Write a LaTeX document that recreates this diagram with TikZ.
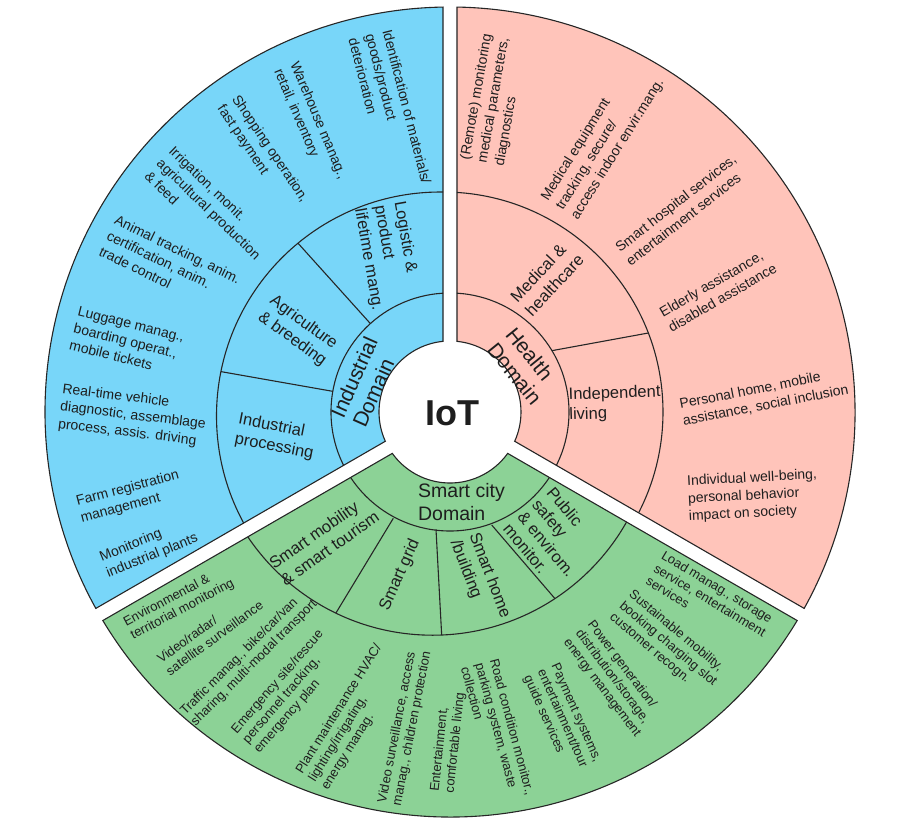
\documentclass[tikz,border=0pt]{standalone}
\usepackage{fontspec}
\setmainfont{Liberation Sans}
\definecolor{cblue}{RGB}{120,214,249}
\definecolor{cpink}{RGB}{255,196,186}
\definecolor{cgreen}{RGB}{140,210,150}
\definecolor{ink}{RGB}{30,30,30}
\newcommand\pinkpath{(-24.342:71) -- (-29.01:405) arc[start angle=-29.01, end angle=89.01, radius=405] -- (84.342:71) arc[start angle=84.342, end angle=-24.342, radius=71] -- cycle}
\newcommand\bluepath{(95.658:71) -- (90.99:405) arc[start angle=90.99, end angle=209.01, radius=405] -- (204.342:71) arc[start angle=204.342, end angle=95.658, radius=71] -- cycle}
\newcommand\greenpath{(215.658:71) -- (210.99:405) arc[start angle=210.99, end angle=329.01, radius=405] -- (324.342:71) arc[start angle=324.342, end angle=215.658, radius=71] -- cycle}
\begin{document}
\begin{tikzpicture}[x=1pt,y=1pt,
  edge/.style={draw=black!85, line width=1.1pt},
  lo/.style={font=\fontsize{14}{17.5}\selectfont, align=left, text=ink, inner sep=0pt},
  lg/.style={font=\fontsize{13}{15}\selectfont, align=left, text=ink, inner sep=0pt},
  lm/.style={font=\fontsize{16.5}{20}\selectfont, align=left, text=ink, inner sep=0pt},
  ld/.style={font=\fontsize{21}{24}\selectfont, align=left, text=ink, inner sep=0pt},
  lds/.style={font=\fontsize{19.5}{23}\selectfont, align=left, text=ink, inner sep=0pt}]
\useasboundingbox (-450,-419) rectangle (457,412);
% fills
\fill[cpink] \pinkpath;
\fill[cblue] \bluepath;
\fill[cgreen] \greenpath;
% pink rings
\begin{scope}
  \clip \pinkpath;
  \draw[edge] (0,0) circle[radius=119];
  \draw[edge] (-7,0) circle[radius=220];
  \begin{scope}
    \clip (-7,0) circle[radius=220];
    \draw[edge] (101.7,61.3) -- (230,84.8);
  \end{scope}
\end{scope}
% blue rings
\begin{scope}
  \clip \bluepath;
  \draw[edge] (0,0) circle[radius=119];
  \draw[edge] (-9.5,-4) circle[radius=224];
  \begin{scope}
    \clip (-9.5,-4) circle[radius=224];
    \draw[edge] (132:119) -- (132:270);
    \draw[edge] (170:119) -- (170:270);
  \end{scope}
\end{scope}
% green rings
\begin{scope}
  \clip \greenpath;
  \draw[edge] (0,0) circle[radius=119];
  \draw[edge] (-17.4,-0.5) circle[radius=222.7];
  \begin{scope}
    \clip (-17.4,-0.5) circle[radius=222.7];
    \draw[edge] (-56.7,-106.3) -- (-124.6,-218.4);
    \draw[edge] (-14,-117.3) -- (-7.2,-244);
    \draw[edge] (41.7,-113) -- (115.6,-199);
  \end{scope}
\end{scope}
% outlines
\draw[edge] \pinkpath;
\draw[edge] \bluepath;
\draw[edge] \greenpath;
% centre
\node[font=\fontsize{36}{40}\selectfont\bfseries, text=ink, inner sep=0pt] (iot) at (2,-1) {IoT};
% industrial domain
\node[ld, rotate=66] (bd) at (-85,30) {Industrial\\Domain};
\node[lm, rotate=-80] (bm1) at (-62,156) {Logistic \&\\product\\lifetime mang.};
\node[lm, rotate=-36] (bm2) at (-152,81) {Agriculture\\\& breeding};
\node[lm, rotate=-11] (bm3) at (-174,-25) {Industrial\\processing};
\node[lo, rotate=-75.6] (b1) at (-60,301) {Identification of materials/\\goods/product\\deterioration};
\node[lo, rotate=-67] (b2) at (-140,288) {Warehouse manag.,\\retail, inventory};
\node[lo, rotate=-56] (b3) at (-187.5,258) {Shopping operation,\\fast payment};
\node[lo, rotate=-44] (b4) at (-241,203) {Irrigation, monit.\\agricultural production\\\& feed};
\node[lo, rotate=-26] (b5) at (-280,147) {Animal tracking, anim.\\certification, anim.\\trade control};
\node[lo, rotate=-14] (b6) at (-323,71) {Luggage manag.,\\boarding operat.,\\mobile tickets};
\node[lo, rotate=-7] (b7) at (-317,-4) {Real-time vehicle\\diagnostic, assemblage\\process, assis. driving};
\node[lo, rotate=15] (b8) at (-320,-85) {Farm registration\\management};
\node[lo, rotate=22] (b9) at (-301,-136) {Monitoring\\industrial plants};
% health domain
\node[ld, rotate=-51] (pd) at (74,46) {Health\\Domain};
\node[lm, rotate=47] (pm1) at (97,134) {Medical \&\\healthcare};
\node[lm, rotate=2] (pm2) at (165,8) {Independent\\living};
\node[lo, rotate=80] (p1) at (44,312) {(Remote) monitoring\\medical parameters,\\diagnostics};
\node[lo, rotate=58] (p2) at (153,272) {Medical equipment\\tracking, secure/\\access indoor envir.mang.};
\node[lo, rotate=38] (p3) at (231,202) {Smart hospital services,\\entertainment services};
\node[lo, rotate=30] (p4) at (268,122) {Elderly assistance,\\disabled assistance};
\node[lo, rotate=11] (p5) at (314,15) {Personal home, mobile\\assistance, social inclusion};
\node[lo, rotate=3] (p6) at (303,-84) {Individual well-being,\\personal behavior\\impact on society};
% smart city domain
\node[lds] (gd) at (11.5,-90.5) {Smart city\\Domain};
\node[lm, rotate=35] (gm1) at (-126,-128) {Smart mobility\\\& smart tourism};
\node[lm, rotate=66] (gm2) at (-50,-163) {Smart grid};
\node[lm, rotate=-69] (gm3) at (30,-167) {Smart home\\/building};
\node[lm, rotate=-50, font=\fontsize{16.5}{19}\selectfont] (gm4) at (104,-126) {Public\\safety\\\& envirom.\\monitor.};
\node[lg, rotate=28] (g1) at (-271,-191) {Environmental \&\\territorial monitoring};
\node[lg, rotate=36] (g2) at (-240,-220) {Video/radar/\\satellite surveillance};
\node[lg, rotate=45] (g3) at (-201,-246) {Traffic manag., bike/car/van\\sharing, multi-modal transport};
\node[lg, rotate=49] (g4) at (-161,-280) {Emergency site/rescue\\personnel tracking,\\emergency plan};
\node[lg, rotate=58] (g5) at (-98,-305) {Plant maintenance HVAC/\\lighting/irrigating,\\energy manag.};
\node[lg, rotate=79] (g6) at (-45,-315) {Video surveillance, access\\manag., children protection};
\node[lg, rotate=84] (g7) at (-2,-330) {Entertainment,\\comfortable living};
\node[lg, rotate=-75] (g8) at (48,-319) {Road condition monitor.,\\parking system, waste\\collection};
\node[lg, rotate=-66] (g9) at (112,-307) {Payment systems,\\entertainment/tour\\guide services};
\node[lg, rotate=-53] (g10) at (164,-267) {Power generation/\\distribution/storage,\\energy management};
\node[lg, rotate=-40] (g11) at (218,-232) {Sustainable mobility,\\booking charging slot\\customer recogn.};
\node[lg, rotate=-31] (g12) at (260,-188) {Load manag., storage\\service, entertainment\\services};
\end{tikzpicture}
\end{document}
